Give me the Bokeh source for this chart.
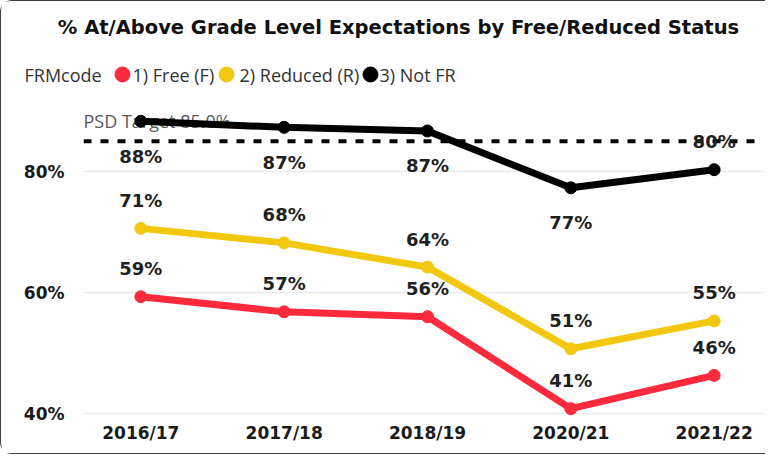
from bokeh.plotting import figure
from bokeh.layouts import column
from bokeh.models import FixedTicker, Span, ColumnDataSource
from bokeh.core.properties import value
from bokeh.embed import file_html
from bokeh.resources import INLINE

# ---- data ----
years = ["2016/17", "2017/18", "2018/19", "2020/21", "2021/22"]
free = [59.3, 56.8, 56.0, 40.8, 46.3]
reduced = [70.6, 68.2, 64.2, 50.7, 55.3]
not_fr = [88.3, 87.3, 86.7, 77.3, 80.3]
series_names = ["1) Free (F)", "2) Reduced (R)", "3) Not FR"]
target = 85.0
target_label = "PSD Target 85.0%"
y_ticks = [40, 60, 80]
title_text = "% At/Above Grade Level Expectations by Free/Reduced Status"
legend_title = "FRMcode"

# ---- styles / layout ----
colors = ["#FD2A3D", "#F2C80F", "#000000"]
label_pos = [["above"] * 5, ["above"] * 5, ["below"] * 4 + ["above"]]
W = 764
TOP_H = 92            # header (title + legend) height
MAIN_H = 360          # chart height
FL, FR_PAD, FB_PAD = 82, 2, 36
X0 = -0.4
PX_PER_X = 143.33
X1 = X0 + (W - FR_PAD - FL) / PX_PER_X
PX_PER_Y = 6.05
Y1 = 80 + (170 - TOP_H) / PX_PER_Y
Y0 = 80 - (TOP_H + MAIN_H - FB_PAD - 170) / PX_PER_Y
TXT = "#333333"

# ---- header figure: title + legend (data units = pixels) ----
h = figure(width=W, height=TOP_H, x_range=(0, W), y_range=(TOP_H, 0),
           output_backend="svg", toolbar_location=None,
           min_border_left=0, min_border_right=0, min_border_top=0,
           min_border_bottom=0)
h.frame_align = False
h.axis.visible = False
h.grid.visible = False
h.outline_line_color = None
h.background_fill_color = "white"
h.border_fill_color = "white"
h.text(x=[397], y=[26], text=[title_text], text_font=value("DejaVu Sans"),
       text_font_style="bold", text_font_size="19.5px", text_color="#111111",
       text_align="center", text_baseline="middle")
h.text(x=[23], y=[73], text=[legend_title], text_font=value("Open Sans"),
       text_font_size="18px", text_color=TXT, text_align="left",
       text_baseline="middle")
leg = ColumnDataSource(dict(dx=[121, 225, 369], tx=[131, 238, 378],
                            y=[73] * 3, c=colors, t=series_names))
h.scatter(x="dx", y="y", color="c", size=15, source=leg)
h.text(x="tx", y="y", text="t", source=leg, text_font=value("Open Sans"),
       text_font_size="18px", text_color=TXT, text_align="left",
       text_baseline="middle")

# ---- main chart ----
p = figure(width=W, height=MAIN_H, x_range=(X0, X1), y_range=(Y0, Y1),
           output_backend="svg", toolbar_location=None,
           min_border_left=FL, min_border_right=FR_PAD,
           min_border_top=0, min_border_bottom=FB_PAD)
p.frame_align = False
p.outline_line_color = None
p.background_fill_color = "white"
p.border_fill_color = "white"
p.xgrid.grid_line_color = None
p.ygrid.grid_line_color = "#ebebeb"
p.ygrid.grid_line_width = 1.5

xs = list(range(len(years)))
p.yaxis.ticker = FixedTicker(ticks=y_ticks)
p.yaxis.major_label_overrides = {t: f"{t}%" for t in y_ticks}
p.xaxis.ticker = FixedTicker(ticks=xs)
p.xaxis.major_label_overrides = {i: y for i, y in enumerate(years)}
for ax in (p.xaxis, p.yaxis):
    ax.axis_line_color = None
    ax.major_tick_line_color = None
    ax.minor_tick_line_color = None
    ax.major_tick_out = 0
    ax.major_tick_in = 0
    ax.major_label_text_font = "DejaVu Sans"
    ax.major_label_text_font_style = "bold"
    ax.major_label_text_font_size = "17px"
    ax.major_label_text_color = "#1a1a1a"
p.yaxis.major_label_standoff = 19
p.xaxis.major_label_standoff = 5

p.add_layout(Span(location=target, dimension="width", line_color="black",
                  line_width=4, line_dash="8 9", level="underlay"))
p.text(x=[X0], y=[target], text=[target_label], y_offset=-20,
       text_font=value("Open Sans"), text_font_size="18px",
       text_color="#5a5a5a", text_align="left", text_baseline="middle")

for vals, col in zip([free, reduced, not_fr], colors):
    p.line(xs, vals, line_color=col, line_width=7)
    p.scatter(xs, vals, size=12, color=col)
for vals, pos in zip([free, reduced, not_fr], label_pos):
    src = ColumnDataSource(dict(x=xs, y=vals,
                                t=[f"{round(v)}%" for v in vals],
                                off=[-28 if q == "above" else 35 for q in pos]))
    p.text(x="x", y="y", text="t", y_offset="off", source=src,
           text_font=value("DejaVu Sans"), text_font_style="bold",
           text_font_size="18px", text_color="#1f1f1f",
           text_align="center", text_baseline="middle")

layout = column(h, p, spacing=0,
                styles={"border-left": "1.5px solid #404040",
                        "border-top": "1.5px solid #404040",
                        "border-bottom": "1.5px solid #404040",
                        "border-top-left-radius": "12px",
                        "border-bottom-left-radius": "12px"})

open("out.html", "w").write(file_html(layout, INLINE))
